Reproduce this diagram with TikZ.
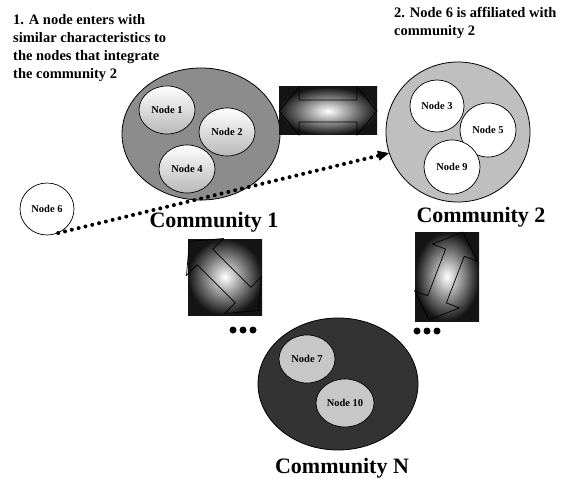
\documentclass[tikz,border=0pt]{standalone}
\usepackage{fontspec}
\setmainfont{Liberation Serif}
\usetikzlibrary{shapes.geometric,arrows.meta}

\begin{document}
\begin{tikzpicture}[x=1pt,y=-1pt,
  community/.style={ellipse,draw,line width=.8pt,inner sep=0pt},
  member/.style={ellipse,draw,line width=.7pt,inner sep=0pt,minimum width=56pt,minimum height=48pt,
    font=\bfseries\fontsize{10.5}{12}\selectfont},
  caption/.style={font=\bfseries\fontsize{22}{24}\selectfont},
  remark/.style={anchor=north west,inner sep=0pt,align=left,font=\bfseries\fontsize{14.5}{18}\selectfont},
  linkbox/.style={inner color=white,outer color=black!92},
  linkarrow/.style={draw,line width=.7pt,line join=miter}]
  \useasboundingbox (0,0) rectangle (577,481);

  \node[remark] (note1) at (13,14) {1. A node enters with\\similar characteristics to\\the nodes that integrate\\the community 2};
  \node[remark] (note2) at (394,7) {2. Node 6 is affiliated with\\community 2};

  % community 1
  \node[community,fill=black!45,minimum width=158pt,minimum height=132pt] (com1) at (201,134) {};
  \node[member,top color=white,bottom color=black!28] (n1) at (167,110) {Node 1};
  \node[member,top color=white,bottom color=black!28] (n2) at (227,132) {Node 2};
  \node[member,top color=white,bottom color=black!28] (n4) at (187,169) {Node 4};
  \node[caption] (cap1) at (214,222) {Community 1};

  % community 2
  \node[community,fill=black!25,minimum width=144pt,minimum height=140pt] (com2) at (458,132) {};
  \node[member,fill=white,minimum width=54pt,minimum height=52pt] (n3) at (437,106) {Node 3};
  \node[member,fill=white,minimum width=56pt,minimum height=54pt] (n5) at (488,130) {Node 5};
  \node[member,fill=white,minimum width=56pt,minimum height=54pt] (n9) at (452,167) {Node 9};
  \node[caption] (cap2) at (481,217) {Community 2};

  % community N
  \node[community,fill=black!80,minimum width=160pt,minimum height=132pt] (comN) at (338,384) {};
  \node[member,fill=black!22] (n7) at (307,359) {Node 7};
  \node[member,fill=black!22,minimum width=58pt] (n10) at (345,403) {Node 10};
  \node[caption] (capN) at (342,468) {Community N};

  % the new node
  \node[member,fill=white,minimum width=54pt,minimum height=52pt] (n6) at (47,209) {Node 6};
  \draw[line width=4pt,line cap=round,dash pattern=on 0pt off 7pt,
    -{Triangle[length=11pt,width=10pt,line width=1pt]}] (n6.-65) -- (com2.197);

  % links between communities
  \shade[linkbox] (279,87) rectangle (377,135);
  \begin{scope}[shift={(328,111)}]
    \draw[linkarrow] (-49,0) -- (-29,-24) -- (-29,-11) -- (29,-11) -- (29,-24) -- (49,0)
      -- (29,24) -- (29,11) -- (-29,11) -- (-29,24) -- cycle;
  \end{scope}

  \shade[linkbox] (188,239) rectangle (262,315);
  \begin{scope}[shift={(224,276)},rotate=-45]
    \draw[linkarrow] (-49,0) -- (-27,-26) -- (-27,-11) -- (27,-11) -- (27,-26) -- (49,0)
      -- (27,26) -- (27,11) -- (-27,11) -- (-27,26) -- cycle;
  \end{scope}

  \shade[linkbox] (415,232) rectangle (479,321);
  \begin{scope}[shift={(446,276)},rotate=69]
    \draw[linkarrow] (-47,0) -- (-25,-24) -- (-25,-10) -- (25,-10) -- (25,-24) -- (47,0)
      -- (25,24) -- (25,10) -- (-25,10) -- (-25,24) -- cycle;
  \end{scope}

  \foreach \x in {233,243,253} \fill (\x,330) circle (3.5pt);
  \foreach \x in {417,427,437} \fill (\x,331) circle (3.5pt);
\end{tikzpicture}
\end{document}
